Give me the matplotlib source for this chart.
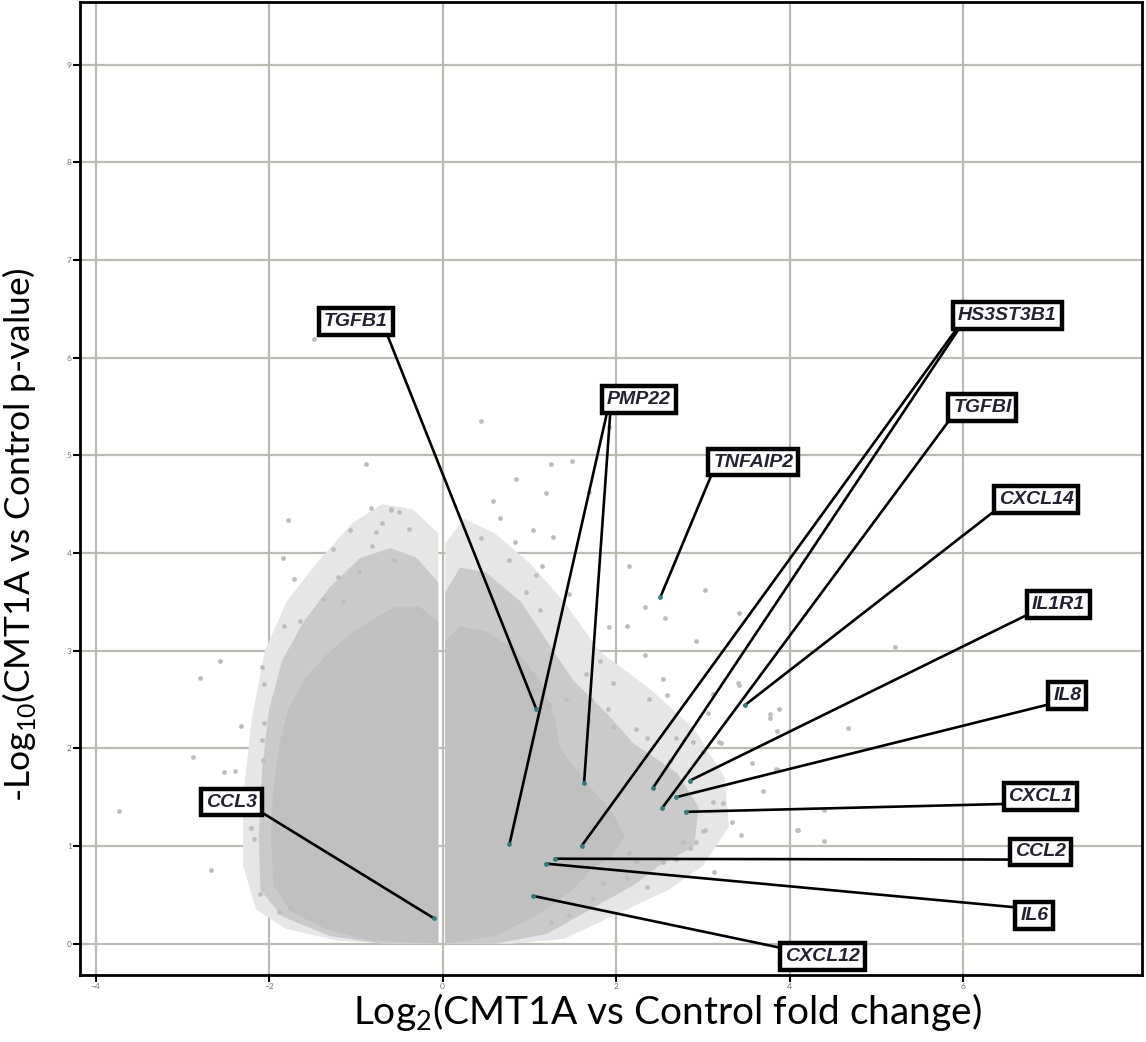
import matplotlib
matplotlib.use("Agg")
import matplotlib.pyplot as plt

plt.rcParams['font.family'] = ['Lato', 'DejaVu Sans']

# 火山图致密区域的轮廓（数据坐标，从原图读出）
left_outer_x = [-0.05, -0.05, -0.35, -0.7, -1.05, -1.45, -1.8, -2.05, -2.2, -2.3, -2.3, -2.15, -1.8, -1.2, -0.6]
left_outer_y = [0.0, 4.2, 4.45, 4.5, 4.3, 3.9, 3.5, 3.0, 2.3, 1.5, 0.8, 0.35, 0.15, 0.03, 0.0]
left_mid_x = [-0.05, -0.05, -0.3, -0.6, -0.95, -1.3, -1.6, -1.85, -2.0, -2.08, -2.12, -2.1, -1.85, -1.3, -0.7]
left_mid_y = [0.0, 3.7, 3.95, 4.05, 3.95, 3.65, 3.3, 2.9, 2.4, 1.8, 1.1, 0.55, 0.28, 0.08, 0.0]
left_core_x = [-0.05, -0.05, -0.27, -0.54, -0.8, -1.1, -1.35, -1.6, -1.78, -1.88, -1.95, -1.98, -1.95, -1.75, -1.35, -0.8]
left_core_y = [0.0, 3.3, 3.45, 3.45, 3.32, 3.15, 2.95, 2.7, 2.4, 2.05, 1.6, 1.1, 0.6, 0.33, 0.15, 0.03]

right_outer_x = [0.03, 0.03, 0.25, 0.6, 1.0, 1.4, 1.8, 2.4, 2.9, 3.25, 3.3, 3.0, 2.6, 2.0, 1.4, 0.8]
right_outer_y = [0.0, 4.1, 4.35, 4.2, 3.9, 3.5, 3.0, 2.6, 2.2, 1.7, 1.2, 0.8, 0.55, 0.3, 0.05, 0.0]
right_mid_x = [0.03, 0.03, 0.2, 0.5, 0.9, 1.2, 1.5, 1.9, 2.2, 2.7, 2.95, 2.9, 2.5, 2.2, 1.7, 1.2, 0.6]
right_mid_y = [0.0, 3.6, 3.85, 3.8, 3.5, 3.1, 2.7, 2.35, 2.05, 1.75, 1.4, 1.0, 0.8, 0.6, 0.35, 0.1, 0.0]
right_core_x = [0.03, 0.03, 0.2, 0.5, 0.85, 1.12, 1.3, 1.35, 1.7, 1.95, 2.1, 1.95, 1.7, 1.5, 1.1, 0.6]
right_core_y = [0.0, 3.1, 3.25, 3.2, 3.0, 2.7, 2.3, 2.0, 1.6, 1.35, 1.1, 0.9, 0.75, 0.55, 0.3, 0.08]

# 零散的点
pts_x = [-0.88, -1.78, -0.83, -0.60, -0.50, -1.07, -0.77, -0.70, -0.39, -1.26, -0.81, -1.84, -1.71, -1.21,
         -0.56, -0.96, -1.38, -1.15, -1.83, -1.65, -2.57, -2.80, -2.08, -2.06, -2.33, -2.06, -2.08, -2.88,
         -2.52, -2.39, -2.07, -3.73, -2.67, -2.21, -2.17, -2.10, -1.89, -1.76, -1.40, -1.48, -0.60,
         0.44, 1.92, 1.25, 1.49, 0.84, 1.19, 0.58, 0.66, 0.44, 0.83, 1.04, 1.27, 0.77, 1.15, 1.08, 2.15,
         0.96, 1.46, 1.12, 2.33, 2.56, 3.02, 2.13, 3.42, 1.92, 2.92, 1.81, 2.54, 2.33, 1.96, 1.65, 1.42,
         1.71, 2.38, 2.58, 3.88, 3.77, 3.12, 3.42, 1.90, 1.23, 1.69, 1.96, 2.23, 2.69, 2.35, 2.88, 3.19,
         3.00, 2.62, 3.56, 3.87, 3.12, 3.23, 3.33, 3.44, 4.08, 3.00, 2.92, 2.77, 2.35, 2.54, 2.69, 2.85,
         2.23, 2.15, 1.85, 2.12, 3.13, 1.73, 1.46, 1.25, 1.69, 5.21, 3.40, 3.77, 3.85, 4.67, 3.06, 3.21,
         3.84, 3.69, 4.40, 4.10, 4.40, 3.02]
pts_y = [4.91, 4.34, 4.46, 4.45, 4.42, 4.24, 4.21, 4.31, 4.25, 4.04, 4.07, 3.95, 3.73, 3.75,
         3.93, 3.81, 3.53, 3.51, 3.25, 3.30, 2.89, 2.72, 2.83, 2.66, 2.23, 2.26, 2.09, 1.91,
         1.76, 1.77, 1.88, 1.36, 0.75, 1.18, 1.07, 0.51, 0.33, 0.37, 0.25, 6.19, 4.44,
         5.35, 5.29, 4.91, 4.94, 4.76, 4.61, 4.53, 4.36, 4.15, 4.11, 4.24, 4.16, 3.93, 3.87, 3.77, 3.87,
         3.60, 3.58, 3.42, 3.45, 3.33, 3.62, 3.25, 3.39, 3.24, 3.10, 2.89, 2.71, 2.96, 2.67, 2.76, 2.51,
         2.49, 2.51, 2.55, 2.40, 2.35, 2.56, 2.65, 2.40, 2.44, 2.29, 2.22, 2.20, 2.11, 2.11, 2.07, 2.07,
         1.96, 1.87, 1.85, 1.78, 1.45, 1.44, 1.25, 1.11, 1.16, 1.15, 1.04, 1.04, 0.58, 0.84, 0.87, 0.98,
         0.84, 0.93, 0.62, 0.67, 0.73, 0.47, 0.29, 0.22, 4.62, 3.04, 2.67, 2.31, 2.18, 2.21, 2.36, 2.05,
         1.79, 1.56, 1.37, 1.16, 1.05, 1.16]

# 标注的基因：点的位置、标签框中心、引线起点在框上的相对位置
genes = ["TGFB1", "PMP22", "PMP22", "TNFAIP2", "HS3ST3B1", "HS3ST3B1", "TGFBI", "CXCL14",
         "IL1R1", "IL8", "CXCL1", "CCL2", "IL6", "CXCL12", "CCL3"]
gene_x = [1.08, 0.77, 1.63, 2.51, 1.60, 2.42, 2.53, 3.48, 2.85, 2.69, 2.80, 1.30, 1.19, 1.04, -0.10]
gene_y = [2.40, 1.02, 1.65, 3.55, 1.00, 1.59, 1.39, 2.44, 1.67, 1.50, 1.35, 0.87, 0.82, 0.49, 0.26]
label_x = [-1.00, 2.26, 2.26, 3.58, 6.51, 6.51, 6.22, 6.84, 7.10, 7.20, 6.89, 6.89, 6.82, 4.38, -2.43]
label_y = [6.37, 5.57, 5.57, 4.93, 6.43, 6.43, 5.49, 4.55, 3.47, 2.54, 1.51, 0.94, 0.29, -0.13, 1.45]
rel_x = [0.96, 0.02, 0.06, 0.0, 0.02, 0.04, 0.0, 0.0, 0.0, 0.0, 0.0, 0.0, 0.0, 0.0, 1.0]
rel_y = [0.0, 0.0, 0.0, 0.0, 0.0, 0.0, 0.05, 0.0, 0.05, 0.05, 0.05, 0.05, 0.95, 0.95, 0.05]

x_ticks = [-4, -2, 0, 2, 4, 6]
y_ticks = [0, 1, 2, 3, 4, 5, 6, 7, 8, 9]


def draw_volcano(output_file):
    fig = plt.figure(figsize=(11.46, 10.42), dpi=100)
    ax = fig.add_axes([80 / 1146, 67 / 1042, 1062 / 1146, 973 / 1042])

    # 先画浅色外圈，再画致密核心
    layers = [(left_outer_x, left_outer_y, '#e6e6e6'), (right_outer_x, right_outer_y, '#e6e6e6'),
              (left_mid_x, left_mid_y, '#cacaca'), (right_mid_x, right_mid_y, '#cacaca'),
              (left_core_x, left_core_y, '#c0c0c0'), (right_core_x, right_core_y, '#c0c0c0')]
    for xs, ys, c in layers:
        ax.fill(xs, ys, color=c, lw=0, zorder=1)
    ax.scatter(pts_x, pts_y, s=12, c='#bdbdbd', lw=0, zorder=1.5)
    ax.scatter(gene_x, gene_y, s=12, c='#2f7f7f', lw=0, zorder=6)

    seen = set()
    for name, gx, gy, lx, ly, rx, ry in zip(genes, gene_x, gene_y, label_x, label_y, rel_x, rel_y):
        first = name not in seen
        seen.add(name)
        ax.annotate(name, xy=(gx, gy), xytext=(lx, ly), textcoords='data',
                    ha='center', va='center', fontsize=14, fontweight='bold',
                    fontstyle='italic', family='Liberation Sans',
                    color='#222233' if first else 'none',
                    bbox=dict(boxstyle='square,pad=0.25', fc='white' if first else 'none',
                              ec='black' if first else 'none', lw=3.2),
                    arrowprops=dict(arrowstyle='-', color='black', lw=1.9,
                                    shrinkA=0, shrinkB=0, relpos=(rx, ry)),
                    zorder=5 if first else 4.5)

    ax.set_xlim(-4.18, 8.06)
    ax.set_ylim(-0.32, 9.64)
    ax.set_xticks(x_ticks)
    ax.set_yticks(y_ticks)
    ax.tick_params(length=5, width=1.5, labelsize=6, labelcolor='#6e7287', pad=1)
    ax.grid(True, color='#bdbab3', lw=1.6)
    ax.set_axisbelow(True)
    for sp in ax.spines.values():
        sp.set_color('black')
        sp.set_linewidth(2.0)

    ax.set_xlabel(r'Log$_\mathregular{2}$(CMT1A vs Control fold change)', fontsize=28)
    ax.xaxis.set_label_coords(0.553, -0.016)
    ax.set_ylabel(r'-Log$_\mathregular{10}$(CMT1A vs Control p-value)', fontsize=25.5)
    ax.yaxis.set_label_coords(-0.040, 0.453)

    plt.savefig(output_file, dpi=100)
    plt.close()


if __name__ == "__main__":
    draw_volcano('out.png')
